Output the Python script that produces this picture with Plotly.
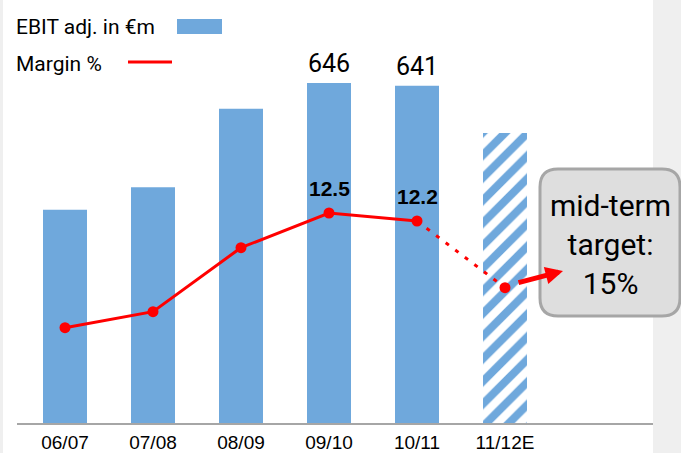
import plotly.graph_objects as go

# ---- data ----
categories = ["06/07", "07/08", "08/09", "09/10", "10/11", "11/12E"]
ebit = [405, 448, 597, 646, 641, 551]
margin_actual = [8.2, 8.8, 11.2, 12.5, 12.2]
margin_forecast = [12.2, 9.7]          # 10/11 -> 11/12E
bar_labels = ["", "", "", "646", "641", ""]
margin_labels = ["", "", "", "12.5", "12.2"]
legend_bar = "EBIT adj. in €m"
legend_line = "Margin %"
target_text = "mid-term<br>target:<br>15%"

BLUE = "#6fa8dc"
RED = "#ff0000"

W, H = 681, 453
L, R, T, B = 17, 28, 10, 30
PW, PH = W - L - R, H - T - B


def px(x):
    return (x - L) / PW


def py(y):
    return (H - B - y) / PH


fig = go.Figure()

fig.add_trace(go.Bar(
    x=categories, y=ebit, width=0.5,
    marker=dict(color=BLUE, line=dict(width=0),
                pattern=dict(shape=["", "", "", "", "", "/"], fgcolor=BLUE, fgopacity=1,
                             bgcolor="white", size=16, solidity=0.5)),
    showlegend=False, hoverinfo="skip",
))

fig.add_trace(go.Scatter(
    x=categories[4:6], y=margin_forecast, yaxis="y2", mode="lines",
    line=dict(color=RED, width=3, dash="4px,8px"),
    showlegend=False, hoverinfo="skip",
))
fig.add_trace(go.Scatter(
    x=categories[5:6], y=margin_forecast[1:], yaxis="y2", mode="markers",
    marker=dict(size=11, color=RED, line=dict(width=0)),
    showlegend=False, hoverinfo="skip",
))

fig.add_trace(go.Scatter(
    x=categories[:5], y=margin_actual, yaxis="y2", mode="lines+markers",
    line=dict(color=RED, width=3), marker=dict(size=11, color=RED),
    showlegend=False, hoverinfo="skip",
))

annotations = []
for c, v, t in zip(categories, ebit, bar_labels):
    if t:
        annotations.append(dict(x=c, y=v, text=t, showarrow=False, yanchor="bottom",
                                yshift=3, font=dict(family="Roboto", size=25, color="black")))
for c, v, t in zip(categories, margin_actual, margin_labels):
    if t:
        annotations.append(dict(x=c, y=v, yref="y2", text="<b>" + t + "</b>", showarrow=False,
                                yanchor="middle", yshift=25,
                                font=dict(family="Liberation Sans", size=21, color="black")))

# legend texts
annotations.append(dict(xref="paper", yref="paper", x=px(14), y=py(27), text=legend_bar,
                        showarrow=False, xanchor="left", yanchor="middle",
                        font=dict(family="Roboto", size=21, color="black")))
annotations.append(dict(xref="paper", yref="paper", x=px(14), y=py(64), text=legend_line,
                        showarrow=False, xanchor="left", yanchor="middle",
                        font=dict(family="Roboto", size=21, color="black")))
# target box text
annotations.append(dict(xref="paper", yref="paper", x=px(610), y=py(245), text=target_text,
                        showarrow=False, xanchor="center", yanchor="middle",
                        font=dict(family="Roboto", size=30, color="black")))
# arrow
annotations.append(dict(xref="paper", yref="paper", x=px(563), y=py(271), text="",
                        showarrow=True, ax=-46, ay=12, arrowhead=2, arrowsize=0.7,
                        arrowwidth=5, arrowcolor=RED, standoff=0, startstandoff=0))

# rounded rect path
x0, x1, y0, y1, r = 540, 680, 169, 316, 18


def P(x, y):
    return f"{px(x):.5f},{py(y):.5f}"


path = (f"M {P(x0 + r, y0)} L {P(x1 - r, y0)} Q {P(x1, y0)} {P(x1, y0 + r)} "
        f"L {P(x1, y1 - r)} Q {P(x1, y1)} {P(x1 - r, y1)} "
        f"L {P(x0 + r, y1)} Q {P(x0, y1)} {P(x0, y1 - r)} "
        f"L {P(x0, y0 + r)} Q {P(x0, y0)} {P(x0 + r, y0)} Z")

shapes = [
    dict(type="rect", xref="paper", yref="paper", x0=px(3), x1=px(653), y0=py(H), y1=py(0),
         fillcolor="white", line=dict(width=0), layer="below"),
    dict(type="rect", xref="paper", yref="paper", x0=px(177), x1=px(222), y0=py(34), y1=py(19),
         fillcolor=BLUE, line=dict(width=0)),
    dict(type="line", xref="paper", yref="paper", x0=px(128), x1=px(172), y0=py(62), y1=py(62),
         line=dict(color=RED, width=3)),
    dict(type="path", xref="paper", yref="paper", path=path, fillcolor="#dedede",
         line=dict(color="#a6a6a6", width=3)),
]

fig.update_layout(
    width=W, height=H,
    margin=dict(l=L, r=R, t=T, b=B, pad=0, autoexpand=False),
    paper_bgcolor="#efefef", plot_bgcolor="white",
    xaxis=dict(type="category", range=[(L - 65) / 88, (W - R - 65) / 88], automargin=False,
               showgrid=False, zeroline=False, showline=True, linecolor="#a6a6a6",
               linewidth=1.5, ticks="", ticklabelstandoff=1,
               tickfont=dict(family="Liberation Sans", size=19, color="black")),
    yaxis=dict(range=[0, PH * 646 / 340], visible=False, showgrid=False, zeroline=False,
               automargin=False),
    yaxis2=dict(range=[12.5 - (H - B - 213) * 0.0375, 12.5 + (213 - T) * 0.0375],
                overlaying="y", visible=False, showgrid=False, zeroline=False, automargin=False),
    annotations=annotations, shapes=shapes,
    showlegend=False,
)

fig.write_html("out.html")
